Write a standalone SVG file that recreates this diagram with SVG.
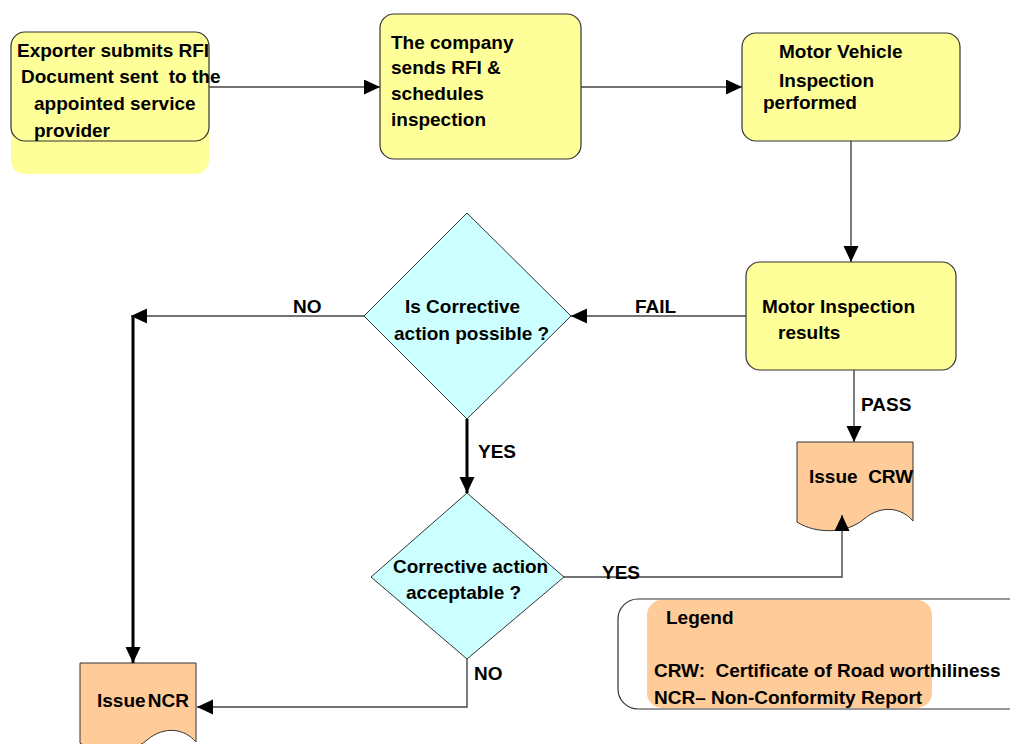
<svg xmlns="http://www.w3.org/2000/svg" width="1010" height="744" viewBox="0 0 1010 744">
<style>
text{font-family:"Liberation Sans",Arial,sans-serif;font-weight:bold;font-size:19px;fill:#000}
.box{fill:#ffff99;stroke:#333;stroke-width:1.2}
.dia{fill:#ccffff;stroke:#333;stroke-width:1}
.doc{fill:#ffcc99;stroke:#333;stroke-width:1}
.ln{fill:none;stroke:#444;stroke-width:1.4}
.thk{fill:none;stroke:#000;stroke-width:3}
</style>
<defs>
<marker id="ah" markerUnits="userSpaceOnUse" markerWidth="16" markerHeight="16" refX="16" refY="7.5" orient="auto">
<path d="M0,0 L16,7.5 L0,15 Z" fill="#000"/>
</marker>
</defs>
<rect width="1010" height="744" fill="#fff"/>
<g id="n1">
<rect x="11" y="32" width="198" height="142" rx="14" fill="#ffff99"/>
<rect x="11" y="32" width="198" height="109" rx="14" fill="none" stroke="#333" stroke-width="1.2"/>
</g>
<g id="n2">
<rect class="box" x="380" y="14" width="201" height="145" rx="14"/>
<text x="391" y="49">The company</text>
<text x="391" y="74">sends RFI &amp;</text>
<text x="391" y="100">schedules</text>
<text x="391" y="126">inspection</text>
</g>
<g id="n3">
<rect class="box" x="742" y="33" width="218" height="108" rx="14"/>
<text x="779" y="58">Motor Vehicle</text>
<text x="779" y="87">Inspection</text>
<text x="763" y="109">performed</text>
</g>
<g id="n4">
<rect class="box" x="746" y="262" width="210" height="108" rx="14"/>
<text x="762" y="313">Motor Inspection</text>
<text x="778" y="339">results</text>
</g>
<g id="d1">
<polygon class="dia" points="467,213 571,316 467,419 364,316"/>
<text x="405" y="313">Is Corrective</text>
<text x="394" y="340">action possible ?</text>
</g>
<g id="d2">
<polygon class="dia" points="467,493 564,577 467,659 371,577"/>
<text x="393" y="573">Corrective action</text>
<text x="406" y="599">acceptable ?</text>
</g>
<g id="crw">
<path class="doc" d="M797,442 H913 V521 C902,508 882,504 864,519 C847,534 815,534 797,522 Z"/>
<text x="809" y="483" xml:space="preserve">Issue  CRW</text>
</g>
<g id="ncr">
<path class="doc" d="M80,663 H196 V742 C185,729 165,725 147,740 C130,755 98,755 80,743 Z"/>
<text x="97" y="707" word-spacing="-3">Issue NCR</text>
</g>
<g id="legend">
<rect x="618" y="599" width="420" height="110" rx="20" fill="#fff" stroke="#333" stroke-width="1.2"/>
<rect x="647" y="600" width="285" height="108" rx="15" fill="#ffcc99"/>
<text x="666" y="624">Legend</text>
<text x="654" y="677" xml:space="preserve">CRW:  Certificate of Road worthiliness</text>
<text x="654" y="704">NCR– Non-Conformity Report</text>
</g>
<g id="connectors">
<path class="ln" d="M209,87 H380" marker-end="url(#ah)"/>
<path class="ln" d="M581,87 H742" marker-end="url(#ah)"/>
<path class="ln" d="M851,141 V262" marker-end="url(#ah)"/>
<path class="ln" d="M746,316 H571" marker-end="url(#ah)"/>
<path class="ln" d="M854,370 V442" marker-end="url(#ah)"/>
<path class="ln" d="M364,316 H131" marker-end="url(#ah)"/>
<path class="thk" d="M133,316 V663" marker-end="url(#ah)"/>
<path class="thk" d="M467,419 V493" marker-end="url(#ah)"/>
<path class="ln" d="M564,577 H842 V515" marker-end="url(#ah)"/>
<path class="ln" d="M467,659 V707 H197" marker-end="url(#ah)"/>
<text x="635" y="313">FAIL</text>
<text x="861" y="411">PASS</text>
<text x="293" y="313">NO</text>
<text x="478" y="458">YES</text>
<text x="602" y="579">YES</text>
<text x="474" y="680">NO</text>
</g>
<g id="n1-text">
<text x="17" y="57">Exporter submits RFI</text>
<text x="21" y="83" xml:space="preserve">Document sent  to the</text>
<text x="34" y="110">appointed service</text>
<text x="34" y="137">provider</text>
</g>
</svg>
